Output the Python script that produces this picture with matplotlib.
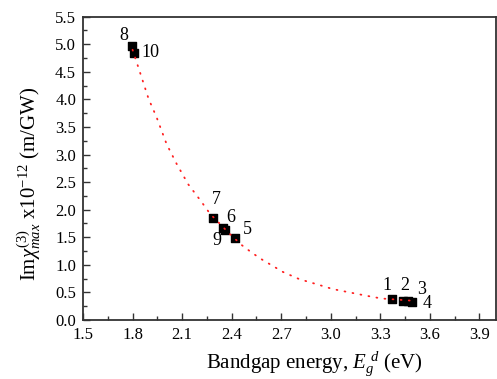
import matplotlib
matplotlib.use("Agg")
import matplotlib.pyplot as plt
from matplotlib.ticker import MultipleLocator, AutoMinorLocator

plt.rcParams['font.family'] = ['Liberation Serif', 'DejaVu Serif']
plt.rcParams['mathtext.fontset'] = 'custom'
plt.rcParams['mathtext.rm'] = 'Liberation Serif'
plt.rcParams['mathtext.it'] = 'Liberation Serif:italic'

# Samples: bandgap energy (eV) and Im chi(3) max (x1e-12 m/GW)
sample_ids = ["1", "2", "3", "4", "5", "6", "7", "8", "9", "10"]
bandgap = [3.37, 3.44, 3.47, 3.49, 2.42, 2.348, 2.288, 1.794, 2.36, 1.806]
chi3 = [0.38, 0.35, 0.34, 0.32, 1.48, 1.66, 1.85, 4.96, 1.64, 4.85]

# Decay trend line through the samples
trend_x = [1.80, 1.845, 1.897, 1.945, 2.006, 2.067, 2.137, 2.213, 2.268,
           2.385, 2.46, 2.50, 2.57, 2.711, 2.81, 2.913, 3.013, 3.114,
           3.215, 3.306, 3.40, 3.49]
trend_y = [4.90, 4.49, 4.01, 3.68, 3.19, 2.83, 2.46, 2.16, 1.93,
           1.57, 1.36, 1.27, 1.12, 0.87, 0.74, 0.65, 0.56, 0.50,
           0.44, 0.39, 0.37, 0.35]

# Label offsets in points (left edge / vertical centre of each number)
label_offsets = {
    "1": (-6.5, 10), "2": (-2, 11), "3": (6.5, 8.5), "4": (8, -1),
    "5": (6, 6.5), "6": (2, 8), "7": (-1, 13.5), "8": (-8.5, 8),
    "9": (-9.5, -8), "10": (6, 0),
}

fig = plt.figure(figsize=(4.97, 3.79), dpi=100)
ax = fig.add_axes([0.167, 0.1557, 0.831, 0.8003])

ax.plot(trend_x, trend_y, color='#ff2020', linestyle=(0, (0.5, 4.0)),
        linewidth=1.3, dash_capstyle='round', zorder=3)
ax.scatter(bandgap, chi3, marker='s', s=36, color='black', zorder=2)

for sid, x, y in zip(sample_ids, bandgap, chi3):
    dx, dy = label_offsets[sid]
    ax.annotate(sid, (x, y), xytext=(dx, dy), textcoords='offset points',
                fontsize=13, ha='left', va='center')

ax.set_xlim(1.5, 4.0)
ax.set_ylim(0.0, 5.5)
ax.xaxis.set_major_locator(MultipleLocator(0.3))
ax.xaxis.set_minor_locator(AutoMinorLocator(2))
ax.yaxis.set_major_locator(MultipleLocator(0.5))
ax.yaxis.set_minor_locator(AutoMinorLocator(2))
ax.set_xticks([1.5, 1.8, 2.1, 2.4, 2.7, 3.0, 3.3, 3.6, 3.9])
ax.set_xticklabels(["1.5", "1.8", "2.1", "2.4", "2.7", "3.0", "3.3", "3.6", "3.9"])

ax.tick_params(which='both', direction='in', top=False, right=False,
               color='#333333', labelsize=12, pad=5)
ax.tick_params(which='major', length=5, width=1)
ax.tick_params(which='minor', length=3, width=1)
for sp in ax.spines.values():
    sp.set_color('#333333')
    sp.set_linewidth(1.3)

ax.set_xlabel(r'Bandgap energy, $E_g^{\ d}$ (eV)', fontsize=15)
ax.set_ylabel(r'Im$\chi^{(3)}_{max}$ x10$^{-12}$ (m/GW)', fontsize=15)
ax.xaxis.set_label_coords(0.56, -0.095)
ax.yaxis.set_label_coords(-0.097, 0.45)

fig.savefig('out.png', dpi=100)
